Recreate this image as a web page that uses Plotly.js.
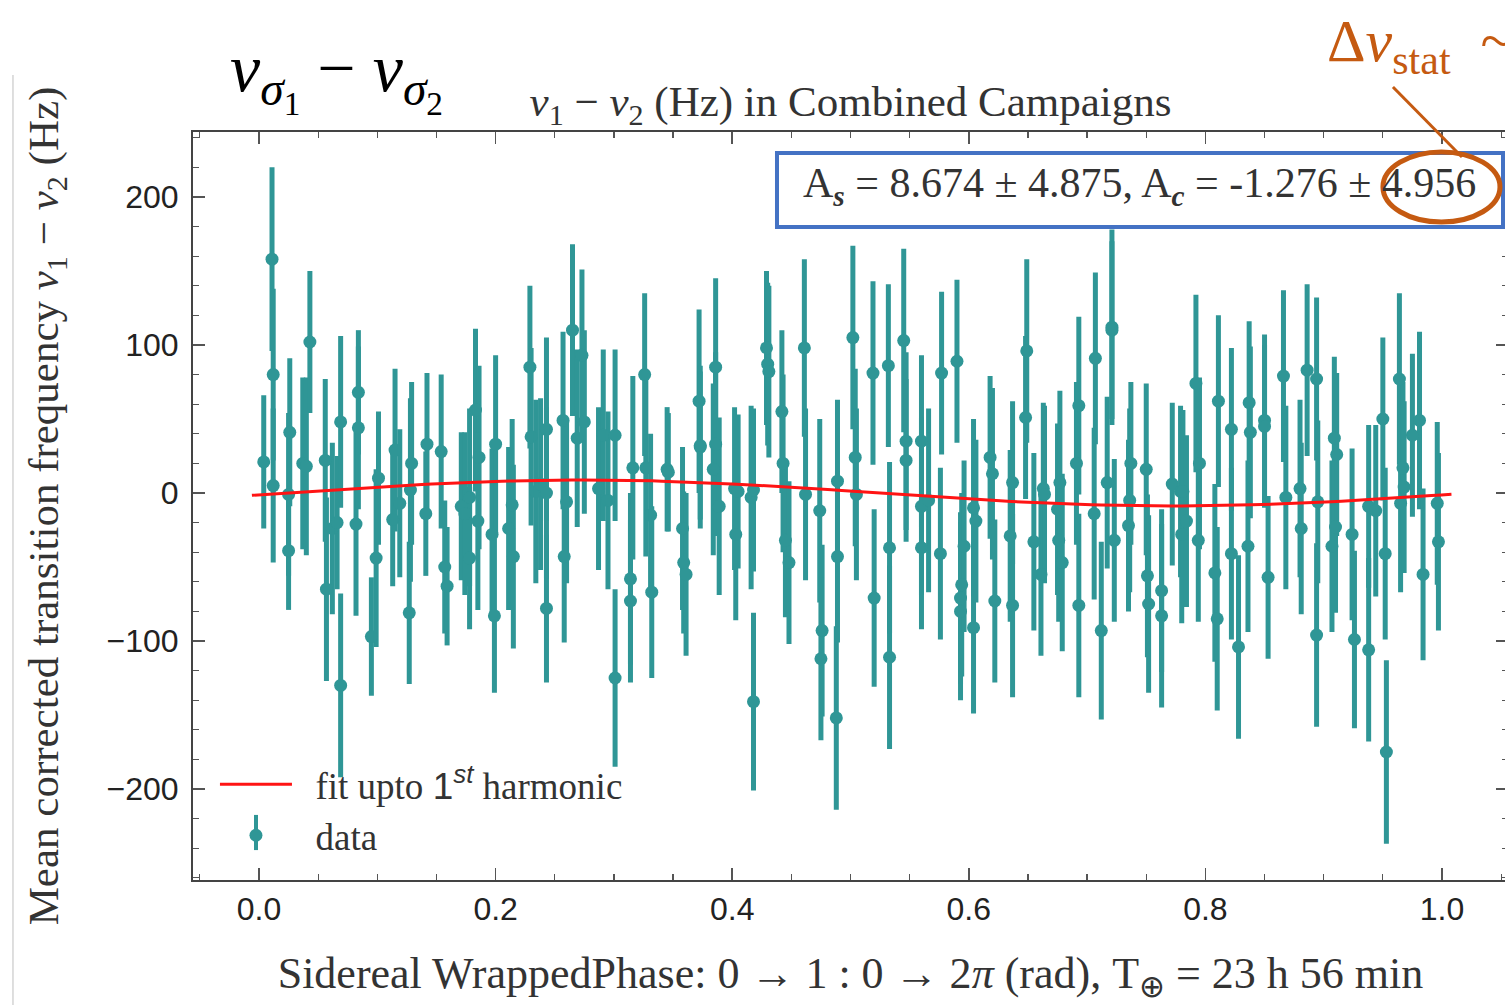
<!DOCTYPE html>
<html>
<head>
<meta charset="utf-8">
<script src="https://cdn.plot.ly/plotly-3.0.1.min.js"></script>
<style>
  html, body { margin: 0; padding: 0; background: #ffffff; overflow: hidden; }
  #chart { width: 1520px; height: 1005px; }
</style>
</head>
<body>
<div id="chart"></div>
<script>
// Sidereal phase of each averaged measurement (0 -> 1 over one sidereal day)
const phase = [
  0.004, 0.011, 0.012, 0.012, 0.025, 0.025, 0.026, 0.037, 0.040, 0.043,
  0.056, 0.057, 0.062, 0.066, 0.069, 0.069, 0.082, 0.084, 0.084, 0.095,
  0.099, 0.101, 0.113, 0.115, 0.119, 0.127, 0.128, 0.129, 0.141, 0.142,
  0.154, 0.157, 0.159, 0.171, 0.174, 0.178, 0.178, 0.183, 0.186, 0.185,
  0.197, 0.199, 0.200, 0.211, 0.214, 0.215, 0.229, 0.230, 0.234, 0.238,
  0.243, 0.243, 0.243, 0.257, 0.258, 0.260, 0.265, 0.269, 0.273, 0.275,
  0.287, 0.291, 0.295, 0.301, 0.301, 0.314, 0.314, 0.316, 0.326, 0.327,
  0.331, 0.332, 0.345, 0.346, 0.358, 0.359, 0.361, 0.372, 0.373, 0.373,
  0.384, 0.386, 0.386, 0.389, 0.402, 0.403, 0.405, 0.416, 0.418, 0.418,
  0.429, 0.430, 0.431, 0.442, 0.443, 0.445, 0.448, 0.461, 0.462, 0.474,
  0.476, 0.475, 0.488, 0.489, 0.489, 0.502, 0.504, 0.505, 0.519, 0.520,
  0.532, 0.533, 0.533, 0.545, 0.547, 0.547, 0.560, 0.560, 0.560, 0.566,
  0.576, 0.577, 0.590, 0.593, 0.593, 0.594, 0.596, 0.604, 0.604, 0.606,
  0.618, 0.620, 0.622, 0.635, 0.637, 0.637, 0.648, 0.649, 0.655, 0.661,
  0.663, 0.664, 0.675, 0.676, 0.677, 0.679, 0.691, 0.693, 0.693, 0.706,
  0.707, 0.712, 0.717, 0.721, 0.721, 0.723, 0.735, 0.736, 0.737, 0.750,
  0.751, 0.752, 0.763, 0.763, 0.772, 0.779, 0.780, 0.781, 0.784, 0.792,
  0.794, 0.795, 0.808, 0.810, 0.811, 0.822, 0.822, 0.828, 0.836, 0.837,
  0.838, 0.850, 0.850, 0.853, 0.866, 0.868, 0.880, 0.881, 0.886, 0.894,
  0.894, 0.895, 0.907, 0.909, 0.910, 0.911, 0.924, 0.926, 0.938, 0.938,
  0.944, 0.950, 0.952, 0.953, 0.964, 0.965, 0.967, 0.968, 0.975, 0.981,
  0.984, 0.996, 0.997
];

// Mean corrected transition frequency difference nu1 - nu2 (Hz)
const freqDiff = [
    21,  158,   80,    5,   -1,  -39,   41,   20,   18,  102,
    22,  -65,  -24,  -20, -130,   48,  -21,   68,   44,  -97,
   -44,   10,  -18,   29,   -7,  -81,    2,   20,  -14,   33,
    28,  -50,  -63,   -9,  -14,  -44,   -3,   56,   24,  -19,
   -28,  -83,   33,  -24,   -8,  -43,   85,   38,    1,    6,
    43,  -78,    0,   49,  -43,   -6,  110,   37,   93,   48,
     3,   39,   -5, -125,   39,  -58,  -73,   17,   80,   17,
   -15,  -67,   16,   14,  -24,  -47,  -55,   62,   31,   32,
    16,   85,   33,   -9,    3,  -28,    1,   -3, -141,    2,
    98,   87,   82,   55,   20,  -32,  -47,   98,   -1,  -12,
   -93, -112, -152,  -43,    8,  105,   24,   -1,   81,  -71,
    86, -111,  -37,  103,   35,   22,   35,   -9,  -37,   -5,
   -41,   81,   89,  -71,  -80,  -62,  -36,  -91,  -10,  -19,
    24,   13,  -73,  -29,  -76,    7,   51,   96,  -33,  -55,
     3,   -1,  -11,  -32,    7,  -47,   20,   59,  -76,  -14,
    91,  -93,    7,  112,  110,  -32,  -22,   -5,   20,   16,
   -56,  -75,  -66,  -83,    6,    1,  -28,    1,  -19,   74,
   -32,   20,  -54,  -85,   62,   43,  -41, -104,  -36,   61,
    41,   49,   45,  -57,   79,   -3,    3,  -24,   83,   77,
   -96,   -6,  -36,   37,  -23,   26,  -28,  -99, -106,   -9,
   -12,   50,  -41, -175,   77,   -7,   17,    4,   39,   49,
   -55,   -7,  -33
];

// One-sigma statistical uncertainty of each point (Hz)
const freqErr = [
  45, 62, 58, 52, 55, 40, 50, 58, 60, 48,
  55, 62, 58, 45, 62, 58, 62, 42, 55, 40,
  60, 45, 45, 55, 50, 48, 62, 55, 42, 48,
  52, 45, 40, 50, 55, 48, 60, 55, 62, 60,
  58, 52, 60, 55, 58, 62, 55, 60, 62, 58,
  62, 50, 58, 60, 58, 55, 58, 60, 58, 62,
  55, 58, 60, 60, 58, 58, 55, 62, 55, 60,
  55, 58, 42, 40, 55, 48, 55, 62, 55, 50,
  58, 60, 62, 60, 55, 58, 52, 62, 60, 55,
  52, 55, 58, 55, 60, 52, 55, 60, 58, 62,
  58, 55, 62, 58, 55, 62, 60, 58, 62, 60,
  55, 62, 58, 62, 60, 55, 58, 60, 55, 62,
  58, 55, 55, 58, 60, 62, 58, 58, 60, 55,
  55, 58, 55, 58, 62, 55, 55, 62, 60, 55,
  58, 60, 58, 55, 62, 60, 55, 60, 62, 58,
  58, 60, 58, 66, 60, 55, 58, 62, 55, 58,
  55, 60, 55, 62, 55, 58, 60, 55, 58, 60,
  55, 58, 60, 62, 58, 55, 58, 62, 58, 55,
  58, 58, 55, 55, 58, 62, 60, 58, 58, 55,
  62, 55, 58, 55, 58, 55, 58, 60, 62, 55,
  58, 55, 58, 62, 58, 60, 58, 58, 55, 60,
  58, 55, 60
];

// First-harmonic fit parameters (Hz)
const fitAs = 8.674, fitAsErr = 4.875;
const fitAc = -1.276, fitAcErr = 4.956;
const fitStart = -0.006, fitEnd = 1.008, fitSamples = 120;

// Fitted model A_s sin(2*pi*phi) + A_c cos(2*pi*phi)
const fitX = [], fitY = [];
for (let i = 0; i <= fitSamples; i++) {
  const p = fitStart + (fitEnd - fitStart) * i / fitSamples;
  fitX.push(p);
  fitY.push(fitAs * Math.sin(2 * Math.PI * p) + fitAc * Math.cos(2 * Math.PI * p));
}

const teal = '#2f9696';
const accent = '#c55a11';
const serif = 'Liberation Serif, Times New Roman, serif';
const sans = 'Liberation Sans, Arial, sans-serif';
const pad = '\u00a0\u00a0';

const dataTrace = {
  x: phase, y: freqDiff, type: 'scatter', mode: 'markers', name: pad + 'data',
  marker: { color: teal, size: 13 },
  error_y: { type: 'data', array: freqErr, visible: true, color: teal, thickness: 5, width: 0 }
};

const fitTrace = {
  x: fitX, y: fitY, type: 'scatter', mode: 'lines',
  name: pad + 'fit upto <span style="font-family:Liberation Sans">1<sup><i>st</i></sup></span> harmonic',
  line: { color: '#ff1414', width: 3 }
};

const fmt = v => v.toFixed(3);

const layout = {
  width: 1520, height: 1005,
  margin: { l: 193, r: 12, t: 132, b: 125 },
  paper_bgcolor: '#ffffff', plot_bgcolor: '#ffffff',
  showlegend: true,
  title: {
    text: '<i>ν</i><sub>1</sub> − <i>ν</i><sub>2</sub> (Hz) in Combined Campaigns',
    font: { family: serif, size: 43, color: '#333333' },
    x: 0.5, xref: 'paper', xanchor: 'center',
    y: 0.9, yref: 'container', yanchor: 'middle'
  },
  xaxis: {
    range: [-0.0558, 1.0558],
    tick0: 0, dtick: 0.2, tickformat: '.1f',
    ticks: 'inside', ticklen: 12, tickwidth: 1.5, tickcolor: '#555555',
    minor: { dtick: 0.05, ticks: 'inside', ticklen: 6, tickwidth: 1.2, tickcolor: '#555555' },
    showline: true, linecolor: '#444444', linewidth: 2, mirror: 'ticks',
    showgrid: false, zeroline: false,
    tickfont: { family: sans, size: 32, color: '#222222' },
    title: {
      text: 'Sidereal WrappedPhase: 0 → 1 : 0 → 2<i>π</i> (rad), T<sub>⊕</sub> = 23 h 56 min',
      font: { family: serif, size: 44, color: '#333333' },
      standoff: 31
    }
  },
  yaxis: {
    range: [-261.5, 243.9],
    tick0: 0, dtick: 100,
    ticks: 'inside', ticklen: 12, tickwidth: 1.5, tickcolor: '#555555',
    minor: { dtick: 20, ticks: 'inside', ticklen: 6, tickwidth: 1.2, tickcolor: '#555555' },
    showline: true, linecolor: '#444444', linewidth: 2, mirror: 'ticks',
    showgrid: false, zeroline: false,
    tickfont: { family: sans, size: 32, color: '#222222' },
    ticklabelstandoff: 6,
    title: {
      text: 'Mean corrected transition frequency <i>ν</i><sub>1</sub> − <i>ν</i><sub>2</sub> (Hz)',
      font: { family: serif, size: 43, color: '#333333' },
      standoff: 34
    }
  },
  legend: {
    x: 0.0167, y: 0.169, xanchor: 'left', yanchor: 'top',
    bgcolor: 'rgba(0,0,0,0)', borderwidth: 0,
    font: { family: serif, size: 37, color: '#333333' },
    traceorder: 'reversed', itemwidth: 72, tracegroupgap: 0
  },
  shapes: [
    // frame of the fit-parameter box
    { type: 'rect', xref: 'paper', yref: 'paper', x0: 0.4441, x1: 0.9962, y0: 0.8730, y1: 0.9719,
      line: { color: '#4472c4', width: 4 }, fillcolor: '#ffffff', layer: 'above' },
    // ring around the cosine amplitude uncertainty
    { type: 'circle', xref: 'paper', yref: 'paper', x0: 0.9049, x1: 0.9939, y0: 0.8797, y1: 0.9733,
      line: { color: accent, width: 5 }, layer: 'above' },
    // pointer from the statistical-error label
    { type: 'line', xref: 'paper', yref: 'paper', x0: 0.9125, y0: 1.0602, x1: 0.9650, y1: 0.9666,
      line: { color: accent, width: 3 }, layer: 'above' },
    // vertical bar on the legend's data symbol
    { type: 'line', xref: 'paper', yref: 'paper', x0: 0.0479, x1: 0.0479, y0: 0.040, y1: 0.087,
      line: { color: teal, width: 4 }, layer: 'above' },
    // thin page rule at the left edge
    { type: 'line', xref: 'paper', yref: 'paper', x0: -0.1369, x1: -0.1369, y0: -0.1671, y1: 1.0762,
      line: { color: '#d4d4d4', width: 1.5 } }
  ],
  annotations: [
    { xref: 'paper', yref: 'paper', x: 0.7194, y: 0.9278, xanchor: 'center', yanchor: 'middle',
      showarrow: false,
      text: 'A<sub><b><i>s</i></b></sub> = ' + fmt(fitAs) + ' ± ' + fmt(fitAsErr) +
            ', A<sub><b><i>c</i></b></sub> = ' + fmt(fitAc) + ' ± ' + fmt(fitAcErr),
      font: { family: serif, size: 42, color: '#333333' } },
    { xref: 'paper', yref: 'paper', x: 0.8608, y: 1.1163, xanchor: 'left', yanchor: 'middle',
      showarrow: false,
      text: 'Δ<i>ν</i><sub>stat</sub>  ~',
      font: { family: serif, size: 60, color: accent } },
    { xref: 'paper', yref: 'paper', x: 0.0266, y: 1.075, xanchor: 'left', yanchor: 'middle',
      showarrow: false,
      text: '<i>ν</i><sub><i>σ</i><sub>1</sub></sub> − <i>ν</i><sub><i>σ</i><sub>2</sub></sub>',
      font: { family: serif, size: 68, color: '#000000' } }
  ]
};

Plotly.newPlot('chart', [dataTrace, fitTrace], layout, { displayModeBar: false, staticPlot: true });
</script>
</body>
</html>
